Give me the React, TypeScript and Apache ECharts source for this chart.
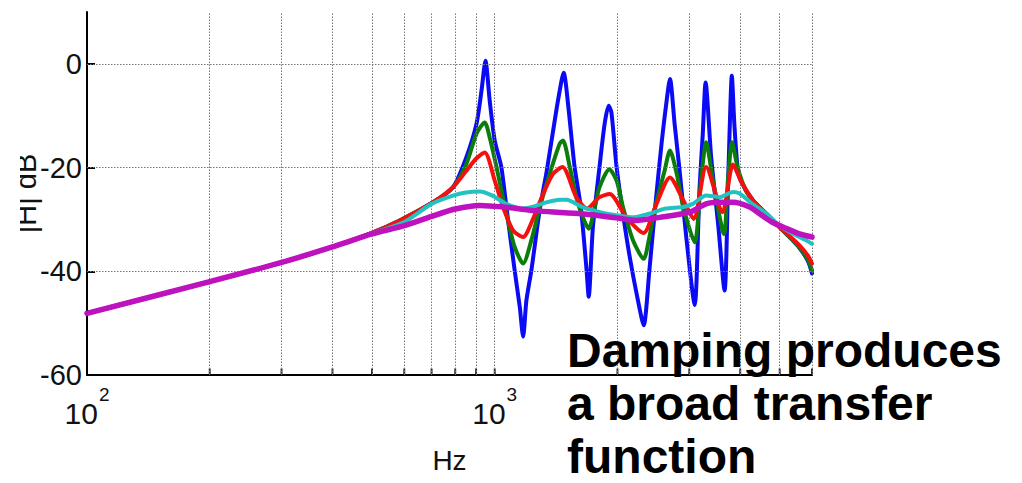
import React, { useEffect, useRef } from "react";
import * as echarts from "echarts";

// Frequency response |H| (dB) vs frequency (Hz)
const blueData: [number, number][] = [
  [100, -48.1], [200, -42.0], [300, -38.3], [400, -35.3], [500, -32.6], [585, -30.2], [706, -26.7], [790, -23.8],
  [852, -18.0], [902, -11.6], [928, -5.2], [949, 0.6], [972, -7.1], [1000, -14.8], [1038, -19.9], [1068, -27.6],
  [1119, -39.8], [1152, -46.9], [1174, -52.6], [1196, -45.6], [1230, -39.8], [1290, -28.0], [1339, -21.0], [1390, -13.0],
  [1430, -7.0], [1476, -1.7], [1516, -8.4], [1570, -19.9], [1626, -27.6], [1680, -39.8], [1700, -44.9], [1741, -31.5],
  [1807, -19.9], [1860, -11.6], [1903, -8.1], [1933, -9.4], [1990, -19.9], [2063, -28.9], [2143, -37.2], [2245, -45.6],
  [2319, -50.4], [2395, -39.8], [2475, -27.6], [2570, -14.8], [2640, -7.1], [2690, -2.9], [2762, -11.6], [2841, -20.6],
  [2955, -34.0], [3093, -46.5], [3177, -24.4], [3238, -13.5], [3290, -3.6], [3395, -18.0], [3530, -30.8], [3662, -43.7],
  [3732, -24.4], [3766, -13.5], [3815, -2.3], [3870, -11.6], [3940, -19.9], [4011, -22.5], [4297, -26.3], [4634, -28.9],
  [4995, -31.5], [5284, -33.4], [5591, -35.5], [5862, -38.0], [6000, -40.4],
];

const greenData: [number, number][] = [
  [100, -48.1], [200, -42.0], [300, -38.3], [400, -35.3], [500, -32.6], [585, -30.2], [706, -26.7], [790, -23.8],
  [852, -19.3], [902, -13.5], [945, -11.3], [972, -14.2], [1010, -19.9], [1068, -28.9], [1119, -35.3], [1174, -38.5],
  [1230, -34.0], [1290, -27.6], [1364, -21.2], [1443, -15.4], [1470, -14.8], [1528, -19.9], [1585, -25.7], [1645, -29.6],
  [1700, -31.8], [1760, -27.6], [1807, -23.8], [1910, -20.3], [1990, -22.5], [2063, -27.6], [2183, -34.0], [2319, -37.6],
  [2395, -33.4], [2475, -27.6], [2610, -20.6], [2690, -16.7], [2795, -21.2], [2900, -27.6], [3093, -34.4], [3205, -22.5],
  [3300, -15.1], [3430, -22.5], [3650, -32.8], [3732, -22.5], [3820, -15.1], [3940, -19.9], [4125, -24.4], [4297, -26.3],
  [4634, -28.9], [4995, -31.5], [5284, -33.4], [5591, -35.4], [5862, -37.8], [6000, -39.8],
];

const redData: [number, number][] = [
  [100, -48.1], [200, -42.0], [300, -38.3], [400, -35.3], [500, -32.6], [585, -30.2], [706, -26.7], [790, -23.8],
  [852, -20.6], [900, -18.3], [945, -17.1], [1000, -22.5], [1048, -27.6], [1109, -32.1], [1174, -33.4], [1237, -30.2],
  [1314, -25.1], [1390, -21.2], [1466, -19.9], [1585, -25.7], [1684, -27.9], [1807, -25.7], [1914, -25.1], [2103, -29.6],
  [2319, -32.6], [2475, -27.6], [2690, -21.9], [2900, -26.3], [3075, -29.9], [3300, -19.9], [3620, -28.6], [3840, -19.4],
  [4011, -22.5], [4297, -26.3], [4634, -28.9], [4995, -31.5], [5284, -33.2], [5591, -35.0], [5862, -37.0], [6000, -38.5],
];

const cyanData: [number, number][] = [
  [100, -48.1], [200, -42.0], [300, -38.3], [400, -35.3], [500, -32.7], [600, -30.5], [700, -27.0], [790, -25.4],
  [850, -24.8], [920, -24.6], [987, -25.4], [1068, -27.0], [1171, -27.9], [1236, -27.6], [1339, -26.7], [1443, -26.2],
  [1500, -26.2], [1637, -27.6], [1812, -28.6], [1987, -29.2], [2175, -29.6], [2390, -28.9], [2626, -27.9], [2900, -27.6],
  [3060, -27.0], [3300, -25.4], [3562, -25.7], [3840, -24.7], [3986, -25.0], [4283, -27.0], [4645, -28.9], [4995, -31.2],
  [5375, -32.7], [5800, -34.0], [6000, -34.7],
];

const magentaData: [number, number][] = [
  [100, -48.1], [200, -42.0], [300, -38.3], [400, -35.3], [500, -32.8], [600, -31.2], [700, -29.4], [800, -28.0],
  [919, -27.3], [1050, -27.6], [1290, -28.4], [1637, -28.9], [1987, -29.7], [2220, -30.2], [2538, -29.6], [3010, -28.6],
  [3300, -27.0], [3562, -26.7], [3840, -26.7], [4217, -27.6], [4463, -28.9], [4780, -30.5], [5180, -31.7], [5591, -32.8],
  [6000, -33.4],
];

const Y_TICKS = [-60, -40, -20, 0];
const H_GRID = [-40, -20, 0];
const V_GRID = [200, 300, 400, 500, 600, 700, 800, 900, 1000, 2000, 3000, 4000, 5000, 6000];
const X_LABELS: Record<number, string> = { 100: "{b|10}{s|2}", 1000: "{b|10}{s|3}" };
const Y_NAME = "|H| dB";
const X_NAME = "Hz";
const NOTE = "Damping produces\na broad transfer\nfunction";

const FONT = '"Liberation Sans", Arial, Helvetica, sans-serif';

export default function App() {
  const ref = useRef<HTMLDivElement>(null);
  useEffect(() => {
    if (!ref.current) return;
    const chart = echarts.init(ref.current, null, { renderer: "svg" });
    const lineSeries = (data: [number, number][], color: string, width: number, z: number) => ({
      type: "line",
      data,
      showSymbol: false,
      smooth: 0.25,
      lineStyle: { color, width, cap: "round", join: "round" },
      itemStyle: { color },
      z,
      silent: true,
    });
    chart.setOption({
      animation: false,
      backgroundColor: "#ffffff",
      textStyle: { fontFamily: FONT },
      grid: { left: 87, right: 210, top: 12, bottom: 108, containLabel: false, outerBoundsMode: "none" },
      xAxis: {
        type: "log",
        logBase: 10,
        min: 100,
        max: 6000,
        axisLine: { show: true, onZero: false, lineStyle: { color: "#000", width: 2 } },
        axisTick: { show: false },
        splitLine: { show: false },
        minorTick: { show: false },
        axisLabel: {
          margin: 10,
          color: "#111",
          fontFamily: FONT,
          showMaxLabel: false,
          formatter: (v: number) => X_LABELS[Math.round(v)] || "",
          rich: {
            b: { fontSize: 30, lineHeight: 56, verticalAlign: "middle", fontFamily: FONT, color: "#111" },
            s: { fontSize: 19, lineHeight: 17, verticalAlign: "top", padding: [0, 0, 0, 1], fontFamily: FONT, color: "#111" },
          },
        },
        name: X_NAME,
        nameLocation: "middle",
        nameGap: 71,
        nameMoveOverlap: false,
        nameTextStyle: { fontSize: 28, color: "#111", fontFamily: FONT },
      },
      yAxis: {
        type: "value",
        min: -60,
        max: 10,
        interval: 20,
        axisLine: { show: true, onZero: false, lineStyle: { color: "#000", width: 2 } },
        axisTick: { show: true, inside: true, length: 8, lineStyle: { color: "#000", width: 2 }, customValues: Y_TICKS },
        splitLine: { show: false },
        axisLabel: {
          customValues: Y_TICKS,
          fontSize: 29,
          color: "#111",
          margin: 5,
          padding: [7, 0, 0, 0],
          fontFamily: FONT,
        },
        name: Y_NAME,
        nameLocation: "middle",
        nameRotate: 90,
        nameGap: 47,
        nameMoveOverlap: false,
        nameTextStyle: { fontSize: 29, color: "#111", fontFamily: FONT },
      },
      series: [
        {
          type: "line",
          data: [],
          z: 1,
          silent: true,
          markLine: {
            silent: true,
            symbol: ["none", "none"],
            label: { show: false },
            lineStyle: { color: "#777", width: 1, type: [1.5, 1.5] },
            data: [...H_GRID.map((v) => ({ yAxis: v })), ...V_GRID.map((v) => ({ xAxis: v }))],
          },
        },
        {
          type: "scatter",
          data: V_GRID.map((v) => [v, -60]),
          symbol: "rect",
          symbolSize: [2, 7],
          symbolOffset: [0, -3],
          itemStyle: { color: "#000" },
          z: 1,
          silent: true,
        },
        lineSeries(blueData, "#0a0af5", 4, 3),
        lineSeries(greenData, "#0b7d0b", 4, 4),
        lineSeries(redData, "#f51010", 4, 5),
        lineSeries(cyanData, "#22c2c2", 4, 6),
        lineSeries(magentaData, "#be12be", 5.5, 7),
      ],
      graphic: [
        { type: "rect", z: 100, shape: { x: 0, y: 130, width: 20, height: 130 }, style: { fill: "#ffffff" } },
        {
          type: "text",
          z: 100,
          left: 567,
          top: 324,
          style: {
            text: NOTE,
            fontSize: 48,
            fontWeight: "bold",
            fontFamily: FONT,
            lineHeight: 53,
            fill: "#000",
          },
        },
      ],
    });
    return () => chart.dispose();
  }, []);
  return (
    <div
      ref={ref}
      style={{ position: "absolute", left: 0, top: 0, width: 1022, height: 483, background: "#fff" }}
    />
  );
}
